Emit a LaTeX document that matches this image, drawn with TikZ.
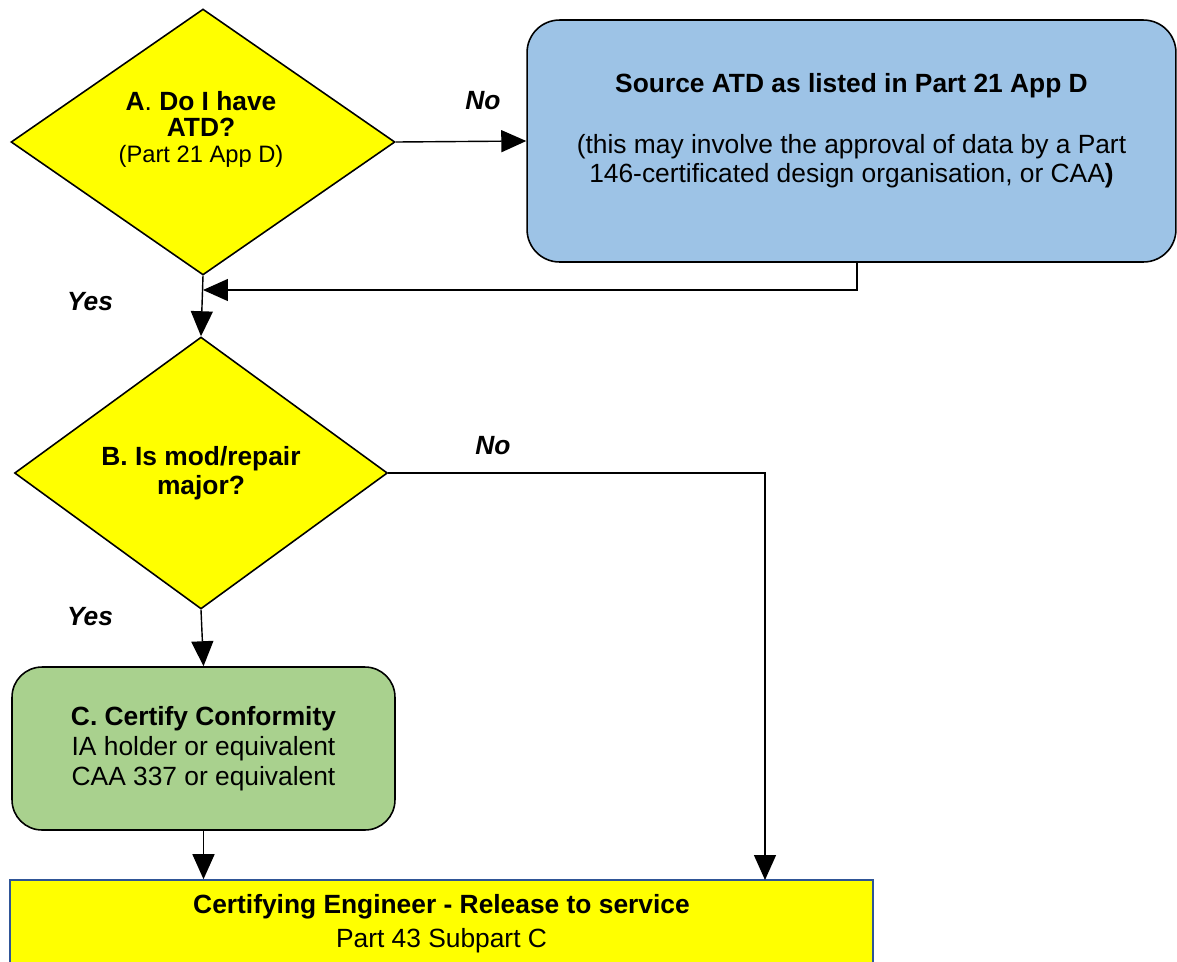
\documentclass[tikz,border=0pt]{standalone}
\usepackage{fontspec}
\setmainfont{Liberation Sans}
\usetikzlibrary{shapes.geometric,arrows.meta,positioning}
\definecolor{decyellow}{HTML}{FFFF00}
\definecolor{srcblue}{HTML}{9DC3E6}
\definecolor{certgreen}{HTML}{A9D18E}
\definecolor{relblue}{HTML}{2F5597}

\begin{document}
\begin{tikzpicture}
[x=0.02cm,y=-0.02cm,align=center,font=\fontsize{15}{16.5}\selectfont]
\tikzstyle{decision}=[diamond,draw,fill=decyellow,inner sep=0pt,line width=0.9pt]
\tikzstyle{plain}=[draw,rounded corners=0.65cm,line width=0.9pt]
\tikzstyle{flow}=[-{Triangle[length=0.5cm,width=0.44cm]},line width=0.8pt]
\tikzstyle{answer}=[font=\fontsize{15}{18}\selectfont\bfseries\itshape]

\useasboundingbox (0,0) rectangle (1177,961);

% decisions
\draw node [decision,minimum width=7.68cm,minimum height=5.32cm] (atd) at (203,142) {};
\draw node [anchor=base,font=\fontsize{15}{14.7}\selectfont] (atdtext) at (201,162)
  {\textbf{A}. \textbf{Do I have}\\\textbf{ATD?}\\
  {\fontsize{13.5}{16.4}\selectfont (Part 21 App D)}};
\draw node [decision,minimum width=7.46cm,minimum height=5.44cm] (major) at (201,473)
  {\textbf{B. Is mod/repair}\\\textbf{major?}};

% boxes
\draw node [plain,fill=srcblue,minimum width=12.98cm,minimum height=4.84cm] (source) at (851.5,141) {};
\draw node [anchor=base] (sourcetext) at (851.5,182)
  {\textbf{Source ATD as listed in Part 21 App D}\\[0.64cm]
   (this may involve the approval of data by a Part\\
   146-certificated design organisation, or CAA\textbf{)}};
\draw node [plain,fill=certgreen,rounded corners=0.6cm,minimum width=7.66cm,minimum height=3.26cm,
  font=\fontsize{15}{17}\selectfont] (certify) at (203.5,748.5)
  {\textbf{C. Certify Conformity}\\IA holder or equivalent\\CAA 337 or equivalent};
\draw node [draw=relblue,fill=decyellow,line width=0.9pt,minimum width=17.26cm,minimum height=1.9cm] (release) at (441.5,927.5) {};
\draw node [anchor=base,font=\fontsize{15}{19}\selectfont] (releasetext) at (441.5,947)
  {\textbf{Certifying Engineer - Release to service}\\Part 43 Subpart C};

% answers
\draw node [answer] (noa) at (483,101) {No};
\draw node [answer] (yesa) at (90,302) {Yes};
\draw node [answer] (nob) at (493,446) {No};
\draw node [answer] (yesb) at (90,617) {Yes};

\coordinate (back) at (203,290);
\coordinate (minor) at (765,880);

\draw [flow] (atd.east) -- (source.west);
\draw [flow] ([xshift=0.11cm]source.south) |- (back);
\draw [flow] (atd.south) -- (major.north);
\draw [flow] (major.east) -| (minor);
\draw [flow] (major.south) -- (certify.north);
\draw [flow] (certify.south) -- (certify.south |- release.north);
\end{tikzpicture}
\end{document}
